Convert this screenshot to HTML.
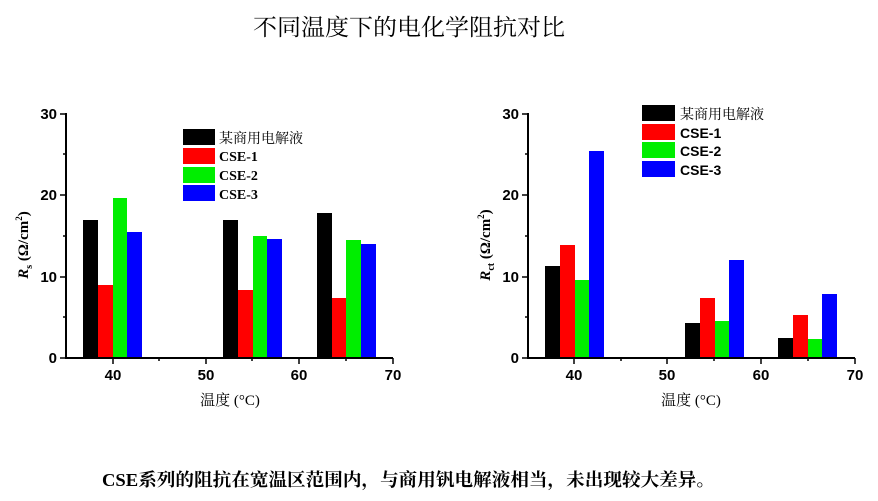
<!DOCTYPE html>
<html><head><meta charset="utf-8"><style>
html,body{margin:0;padding:0;background:#fff;}
svg{display:block}
</style></head><body>
<svg width="878" height="501" viewBox="0 0 878 501" xmlns="http://www.w3.org/2000/svg">
<rect width="878" height="501" fill="#fff"/>
<text x="409" y="35" text-anchor="middle" font-family="'Liberation Serif','Noto Serif CJK SC',serif" font-size="23" textLength="312" lengthAdjust="spacingAndGlyphs">不同温度下的电化学阻抗对比</text>

<!-- LEFT CHART -->
<g font-family="'Liberation Sans',Arial,sans-serif" font-weight="bold" font-size="15">
<g fill="#000">
<rect x="83" y="220" width="15" height="138"/><rect x="223" y="220" width="15" height="138"/><rect x="317" y="213" width="15" height="145"/>
</g>
<g fill="#ff0000">
<rect x="98" y="285" width="15" height="73"/><rect x="238" y="290" width="15" height="68"/><rect x="332" y="298" width="14" height="60"/>
</g>
<g fill="#00ee00">
<rect x="113" y="198" width="14" height="160"/><rect x="253" y="236" width="14" height="122"/><rect x="346" y="240" width="15" height="118"/>
</g>
<g fill="#0000ff">
<rect x="127" y="232" width="15" height="126"/><rect x="267" y="239" width="15" height="119"/><rect x="361" y="244" width="15" height="114"/>
</g>
<path d="M66 113V358H393" stroke="#000" stroke-width="2" fill="none"/>
<path d="M66 114H60M66 195H60M66 277H60M66 358H60M66 154H63M66 236H63M66 317H63M113 358V364M206 358V364M299 358V364M393 358V364M159 358V361M252 358V361M346 358V361" stroke="#000" stroke-width="1.5"/>
<g text-anchor="end"><text x="57" y="119">30</text><text x="57" y="200">20</text><text x="57" y="282">10</text><text x="57" y="363">0</text></g>
<g text-anchor="middle"><text x="113" y="380">40</text><text x="206" y="380">50</text><text x="299" y="380">60</text><text x="393" y="380">70</text></g>
<rect x="183" y="129" width="32" height="16" fill="#000"/>
<rect x="183" y="148" width="32" height="16" fill="#ff0000"/>
<rect x="183" y="167" width="32" height="16" fill="#00ee00"/>
<rect x="183" y="185" width="32" height="16" fill="#0000ff"/>
<g font-family="'Liberation Serif','Noto Serif CJK SC',serif" font-size="14">
<text x="219" y="143" font-weight="normal">某商用电解液</text><text x="219" y="161">CSE-1</text><text x="219" y="180">CSE-2</text><text x="219" y="199">CSE-3</text>
</g>
<text transform="translate(28,245) rotate(-90)" text-anchor="middle" font-family="'Liberation Serif',serif" font-size="15"><tspan font-style="italic">R</tspan><tspan font-size="10" dy="4">s</tspan><tspan dy="-4"> (Ω/cm</tspan><tspan font-size="9" dy="-6">2</tspan><tspan dy="6">)</tspan></text>
<text x="230" y="405" text-anchor="middle" font-family="'Liberation Serif','Noto Serif CJK SC',serif" font-weight="normal" font-size="15">温度 (°C)</text>
</g>

<!-- RIGHT CHART -->
<g font-family="'Liberation Sans',Arial,sans-serif" font-weight="bold" font-size="15">
<rect x="545" y="266" width="15" height="92" fill="#000"/><rect x="685" y="323" width="15" height="35" fill="#000"/><rect x="778" y="338" width="15" height="20" fill="#000"/>
<rect x="560" y="245" width="15" height="113" fill="#ff0000"/><rect x="700" y="298" width="15" height="60" fill="#ff0000"/><rect x="793" y="315" width="15" height="43" fill="#ff0000"/>
<rect x="575" y="280" width="14" height="78" fill="#00ee00"/><rect x="715" y="321" width="14" height="37" fill="#00ee00"/><rect x="808" y="339" width="14" height="19" fill="#00ee00"/>
<rect x="589" y="151" width="15" height="207" fill="#0000ff"/><rect x="729" y="260" width="15" height="98" fill="#0000ff"/><rect x="822" y="294" width="15" height="64" fill="#0000ff"/>
<path d="M528 113V358H855" stroke="#000" stroke-width="2" fill="none"/>
<path d="M528 114H522M528 195H522M528 277H522M528 358H522M528 154H525M528 236H525M528 317H525M574 358V364M667 358V364M761 358V364M855 358V364M621 358V361M714 358V361M808 358V361" stroke="#000" stroke-width="1.5"/>
<g text-anchor="end"><text x="519" y="119">30</text><text x="519" y="200">20</text><text x="519" y="282">10</text><text x="519" y="363">0</text></g>
<g text-anchor="middle"><text x="574" y="380">40</text><text x="667" y="380">50</text><text x="761" y="380">60</text><text x="855" y="380">70</text></g>
<rect x="642" y="105" width="33" height="16" fill="#000"/>
<rect x="642" y="124" width="33" height="16" fill="#ff0000"/>
<rect x="642" y="142" width="33" height="16" fill="#00ee00"/>
<rect x="642" y="161" width="33" height="16" fill="#0000ff"/>
<text x="680" y="119" font-family="'Liberation Serif','Noto Serif CJK SC',serif" font-weight="normal" font-size="14">某商用电解液</text>
<text x="680" y="138" font-size="14">CSE-1</text><text x="680" y="156" font-size="14">CSE-2</text><text x="680" y="175" font-size="14">CSE-3</text>
<text transform="translate(490,245) rotate(-90)" text-anchor="middle" font-family="'Liberation Serif',serif" font-size="15"><tspan font-style="italic">R</tspan><tspan font-size="10" dy="4">ct</tspan><tspan dy="-4"> (Ω/cm</tspan><tspan font-size="9" dy="-6">2</tspan><tspan dy="6">)</tspan></text>
<text x="691" y="405" text-anchor="middle" font-family="'Liberation Serif','Noto Serif CJK SC',serif" font-weight="normal" font-size="15">温度 (°C)</text>
</g>

<text x="102" y="486" font-family="'Liberation Serif','Noto Serif CJK SC',serif" font-weight="bold" font-size="18" textLength="613" lengthAdjust="spacingAndGlyphs">CSE系列的阻抗在宽温区范围内，与商用钒电解液相当，未出现较大差异。</text>
</svg>
</body></html>
